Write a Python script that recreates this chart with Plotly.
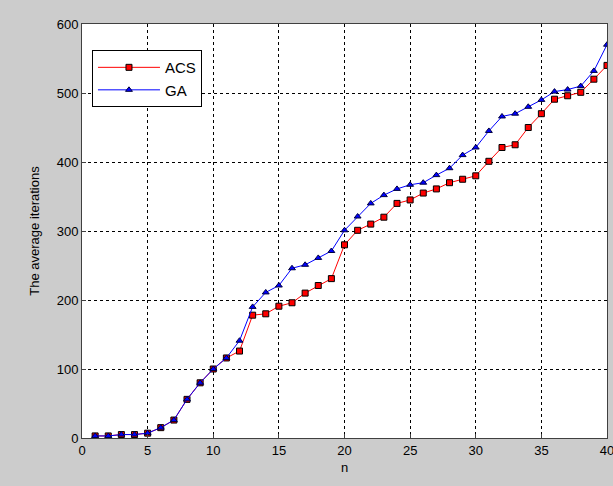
import plotly.graph_objects as go

n = list(range(1, 41))
acs = [3, 3, 5, 5, 7, 15, 26, 56, 80, 100, 116, 126, 178, 180, 191, 196, 210, 221, 231, 280,
       301, 310, 320, 340, 345, 355, 361, 370, 375, 380, 401, 421, 425, 450, 470, 491, 496, 501, 520, 540]
ga = [3, 3, 5, 5, 7, 15, 26, 56, 80, 100, 116, 141, 190, 211, 221, 246, 251, 261, 271, 301,
      321, 340, 352, 361, 367, 370, 381, 391, 410, 421, 445, 466, 470, 480, 490, 502, 505, 510, 532, 570]

xticks = [0, 5, 10, 15, 20, 25, 30, 35, 40]
yticks = [0, 100, 200, 300, 400, 500, 600]

font = dict(family="Liberation Sans, Arial, sans-serif", size=13, color="black")

fig = go.Figure()
fig.add_trace(go.Scatter(
    x=n, y=acs, name="ACS", mode="lines+markers",
    line=dict(color="#ff0000", width=1),
    marker=dict(symbol="square", size=6, color="#ff0000", line=dict(color="black", width=1)),
))
fig.add_trace(go.Scatter(
    x=n, y=ga, name="GA", mode="lines+markers",
    line=dict(color="#0000ff", width=1),
    marker=dict(symbol="triangle-up", size=6, color="#0000ff", line=dict(color="#000040", width=1)),
))

axis_common = dict(
    showline=True, linecolor="#404040", linewidth=1, mirror=True,
    showgrid=True, gridcolor="black", gridwidth=1, griddash="3px,3px",
    ticks="inside", ticklen=4, tickcolor="#404040",
    zeroline=False, tickfont=font, automargin=False, ticklabeloverflow="allow",
)

fig.update_layout(
    width=613, height=486,
    margin=dict(l=82, r=6, t=24, b=48),
    paper_bgcolor="#cccccc", plot_bgcolor="white",
    font=font,
    showlegend=True,
    legend=dict(
        x=0.019, y=0.937, xanchor="left", yanchor="top",
        bgcolor="white", bordercolor="black", borderwidth=1,
        font=dict(family="Liberation Sans, Arial, sans-serif", size=15, color="black"),
        itemwidth=62, tracegroupgap=0,
    ),
    xaxis=dict(range=[0, 40], tickvals=xticks, ticktext=[str(v) for v in xticks],
               title=dict(text="n", font=font, standoff=6), **axis_common),
    yaxis=dict(range=[0, 600], tickvals=yticks, ticktext=[str(v) for v in yticks],
               title=dict(text="The average iterations", font=font, standoff=14), **axis_common),
)

fig.write_html(
    "out.html",
    config={"displayModeBar": False},
    post_script="document.body.style.margin='0';document.body.style.background='#cccccc';",
)
